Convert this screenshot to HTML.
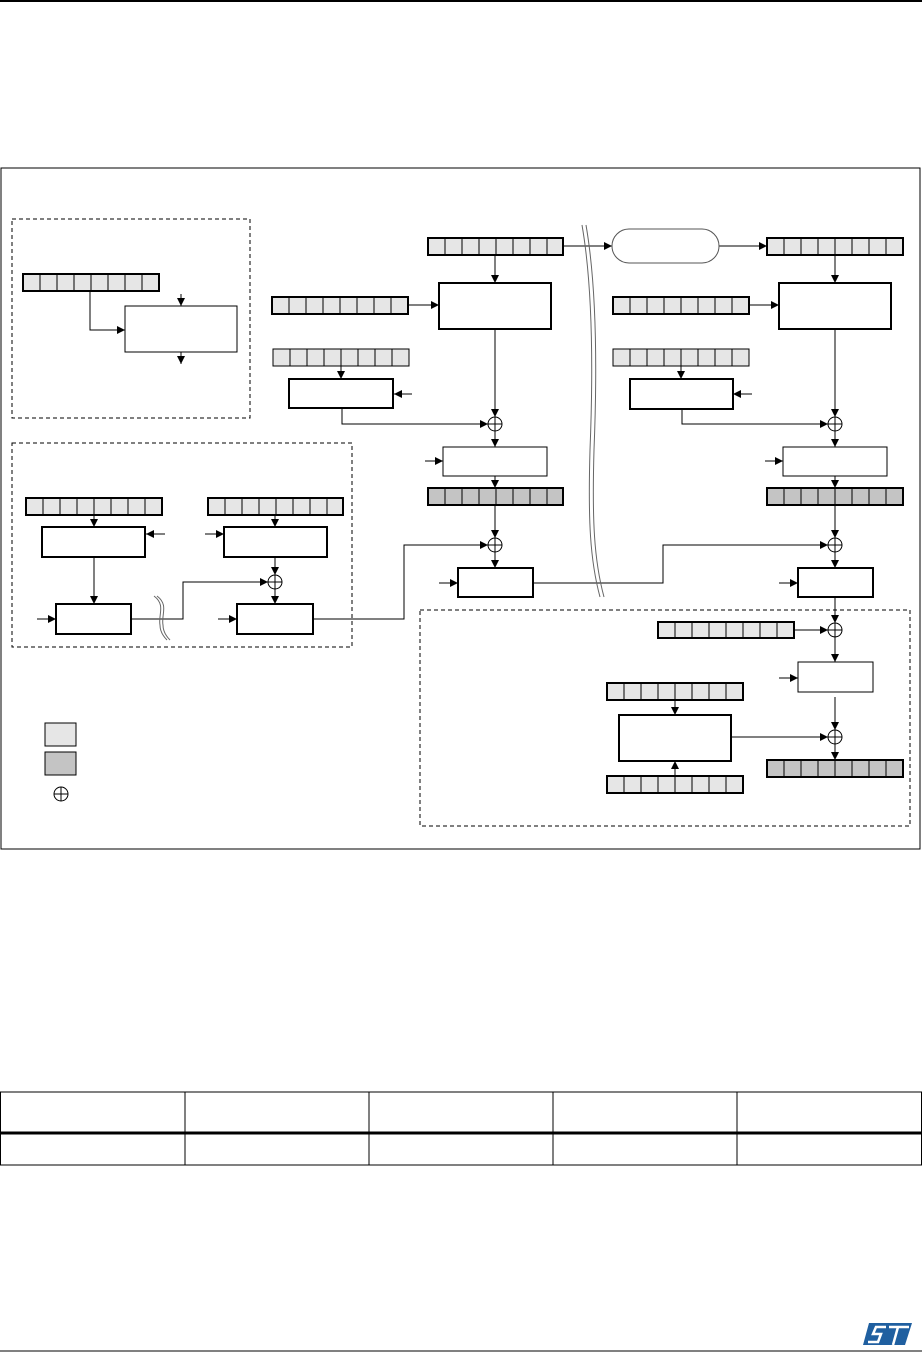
<!DOCTYPE html>
<html><head><meta charset="utf-8"><style>html,body{margin:0;padding:0;background:#fff}svg{display:block}</style></head>
<body>
<svg width="922" height="1361" viewBox="0 0 922 1361" xmlns="http://www.w3.org/2000/svg" fill="none" stroke="#000" stroke-width="1">
<defs>
<marker id="a" viewBox="0 0 8 8" refX="8" refY="4" markerWidth="8" markerHeight="8" markerUnits="userSpaceOnUse" orient="auto"><path d="M0 0L8 4L0 8z" fill="#000" stroke="none"/></marker>
</defs>
<g shape-rendering="crispEdges">
<line x1="0" y1="1" x2="922" y2="1" stroke-width="2"/>
<rect x="1" y="168" width="919" height="681"/>
<g stroke-dasharray="4 3">
<rect x="12" y="219" width="238" height="199"/>
<rect x="12" y="443" width="340" height="204"/>
<rect x="420" y="610" width="490" height="216"/>
</g>
<g fill="#e6e6e6" stroke-width="2">
<rect x="23" y="274" width="136" height="17"/>
<rect x="272" y="297" width="136" height="17"/>
<rect x="428" y="238" width="135" height="17"/>
<rect x="767" y="238" width="136" height="17"/>
<rect x="613" y="297" width="136" height="17"/>
<rect x="26" y="498" width="136" height="17"/>
<rect x="208" y="498" width="135" height="17"/>
<rect x="658" y="622" width="136" height="16"/>
<rect x="607" y="683" width="136" height="17"/>
<rect x="607" y="776" width="136" height="17"/>
</g>
<g fill="#e6e6e6">
<rect x="273" y="349" width="136" height="17"/>
<rect x="613" y="349" width="136" height="17"/>
</g>
<g fill="#c4c4c4" stroke-width="2">
<rect x="428" y="488" width="135" height="17"/>
<rect x="767" y="488" width="136" height="17"/>
<rect x="767" y="760" width="136" height="17"/>
</g>
<g>
<path d="M23 274 m17 0 v17 m17 -17 v17 m17 -17 v17 m17 -17 v17 m17 -17 v17 m17 -17 v17 m17 -17 v17"/>
<path d="M272 297 m17 0 v17 m17 -17 v17 m17 -17 v17 m17 -17 v17 m17 -17 v17 m17 -17 v17 m17 -17 v17"/>
<path d="M428 238 m17 0 v17 m17 -17 v17 m17 -17 v17 m17 -17 v17 m17 -17 v17 m17 -17 v17 m17 -17 v17"/>
<path d="M767 238 m17 0 v17 m17 -17 v17 m17 -17 v17 m17 -17 v17 m17 -17 v17 m17 -17 v17 m17 -17 v17"/>
<path d="M613 297 m17 0 v17 m17 -17 v17 m17 -17 v17 m17 -17 v17 m17 -17 v17 m17 -17 v17 m17 -17 v17"/>
<path d="M26 498 m17 0 v17 m17 -17 v17 m17 -17 v17 m17 -17 v17 m17 -17 v17 m17 -17 v17 m17 -17 v17"/>
<path d="M208 498 m17 0 v17 m17 -17 v17 m17 -17 v17 m17 -17 v17 m17 -17 v17 m17 -17 v17 m17 -17 v17"/>
<path d="M658 622 m17 0 v16 m17 -16 v16 m17 -16 v16 m17 -16 v16 m17 -16 v16 m17 -16 v16 m17 -16 v16"/>
<path d="M607 683 m17 0 v17 m17 -17 v17 m17 -17 v17 m17 -17 v17 m17 -17 v17 m17 -17 v17 m17 -17 v17"/>
<path d="M607 776 m17 0 v17 m17 -17 v17 m17 -17 v17 m17 -17 v17 m17 -17 v17 m17 -17 v17 m17 -17 v17"/>
<path d="M273 349 m17 0 v17 m17 -17 v17 m17 -17 v17 m17 -17 v17 m17 -17 v17 m17 -17 v17 m17 -17 v17"/>
<path d="M613 349 m17 0 v17 m17 -17 v17 m17 -17 v17 m17 -17 v17 m17 -17 v17 m17 -17 v17 m17 -17 v17"/>
<path d="M428 488 m17 0 v17 m17 -17 v17 m17 -17 v17 m17 -17 v17 m17 -17 v17 m17 -17 v17 m17 -17 v17"/>
<path d="M767 488 m17 0 v17 m17 -17 v17 m17 -17 v17 m17 -17 v17 m17 -17 v17 m17 -17 v17 m17 -17 v17"/>
<path d="M767 760 m17 0 v17 m17 -17 v17 m17 -17 v17 m17 -17 v17 m17 -17 v17 m17 -17 v17 m17 -17 v17"/>
</g>
<g fill="#fff">
<rect x="125" y="306" width="112" height="46"/>
<rect x="443" y="447" width="104" height="29"/>
<rect x="783" y="447" width="104" height="29"/>
<rect x="798" y="662" width="75" height="30"/>
</g>
<g fill="#fff" stroke-width="2">
<rect x="42" y="527" width="103" height="30"/>
<rect x="439" y="283" width="112" height="46"/>
<rect x="779" y="283" width="112" height="46"/>
<rect x="289" y="379" width="104" height="29"/>
<rect x="630" y="379" width="103" height="30"/>
<rect x="458" y="568" width="75" height="29"/>
<rect x="798" y="568" width="75" height="29"/>
<rect x="224" y="527" width="103" height="30"/>
<rect x="56" y="604" width="75" height="30"/>
<rect x="237" y="604" width="76" height="30"/>
<rect x="619" y="715" width="112" height="46"/>
</g>
<g marker-end="url(#a)">
<path d="M90 291V330H125"/>
<path d="M181 294V306"/>
<path d="M181 352V364"/>
<path d="M408 305H439"/>
<path d="M341 366V379"/>
<path d="M412 394H394"/>
<path d="M342 408V424H488"/>
<path d="M495 255V283"/>
<path d="M495 329V417"/>
<path d="M495 431V447"/>
<path d="M425 461H443"/>
<path d="M495 476V488"/>
<path d="M495 505V538"/>
<path d="M495 552V568"/>
<path d="M439 583H458"/>
<path d="M533 583H663V545H828"/>
<path d="M563 246H612"/>
<path d="M719 246H767"/>
<path d="M835 255V283"/>
<path d="M749 305H779"/>
<path d="M681 366V379"/>
<path d="M752 394H733"/>
<path d="M682 409V424H828"/>
<path d="M835 329V417"/>
<path d="M835 431V447"/>
<path d="M765 461H783"/>
<path d="M835 476V488"/>
<path d="M835 505V538"/>
<path d="M835 552V568"/>
<path d="M779 583H798"/>
<path d="M835 597V623"/>
<path d="M794 630H828"/>
<path d="M835 637V662"/>
<path d="M779 678H798"/>
<path d="M835 697V730"/>
<path d="M731 737H828"/>
<path d="M835 744V760"/>
<path d="M675 700V715"/>
<path d="M675 776V761"/>
<path d="M94 515V527"/>
<path d="M165 534H146"/>
<path d="M275 515V527"/>
<path d="M205 534H224"/>
<path d="M275 557V575"/>
<path d="M94 557V604"/>
<path d="M37 619H56"/>
<path d="M218 619H237"/>
<path d="M275 589V604"/>
<path d="M131 619H183V582H268"/>
<path d="M313 619H404V545H488"/>
</g>
<rect x="45" y="723" width="31" height="23" fill="#e6e6e6"/>
<rect x="45" y="752" width="31" height="23" fill="#c4c4c4"/>
<line x1="0" y1="1092" x2="922" y2="1092"/>
<line x1="0" y1="1133" x2="922" y2="1133" stroke-width="3"/>
<line x1="0" y1="1165" x2="922" y2="1165"/>
<path d="M0.5 1092V1165M185 1092V1165M369 1092V1165M553 1092V1165M737 1092V1165M921.5 1092V1165"/>
<line x1="0" y1="1351" x2="922" y2="1351"/>
</g>
<rect x="612" y="229" width="107" height="34" rx="17" fill="#fff" stroke="#555"/>
<g fill="#fff">
<circle cx="495" cy="424" r="7"/><path d="M488 424h14M495 417v14"/>
<circle cx="495" cy="545" r="7"/><path d="M488 545h14M495 538v14"/>
<circle cx="835" cy="424" r="7"/><path d="M828 424h14M835 417v14"/>
<circle cx="835" cy="545" r="7"/><path d="M828 545h14M835 538v14"/>
<circle cx="835" cy="630" r="7"/><path d="M828 630h14M835 623v14"/>
<circle cx="835" cy="737" r="7"/><path d="M828 737h14M835 730v14"/>
<circle cx="275" cy="582" r="7"/><path d="M268 582h14M275 575v14"/>
<circle cx="61" cy="794" r="7"/><path d="M54 794h14M61 787v14"/>
</g>
<path d="M582 225C595 300 592 400 590 450C588 520 590 560 600 597M586 225C599 300 596 400 594 450C592 520 594 560 604 597" stroke="#666"/>
<path d="M154 596C166 605 158 615 160 625C160 632 164 637 167 640M157 596C169 605 161 615 163 625C163 632 167 637 170 640" stroke="#666"/>
<!-- logo -->
<path d="M869 1323H912L905 1345H863Z" fill="#1f5fa0" stroke="none"/>
<path d="M886 1327H876L873 1334H881L878 1342H868" stroke="#fff" stroke-width="2.5"/>
<path d="M889 1327H909M898 1327L893 1345" stroke="#fff" stroke-width="2.5"/>
</svg>
</body></html>
